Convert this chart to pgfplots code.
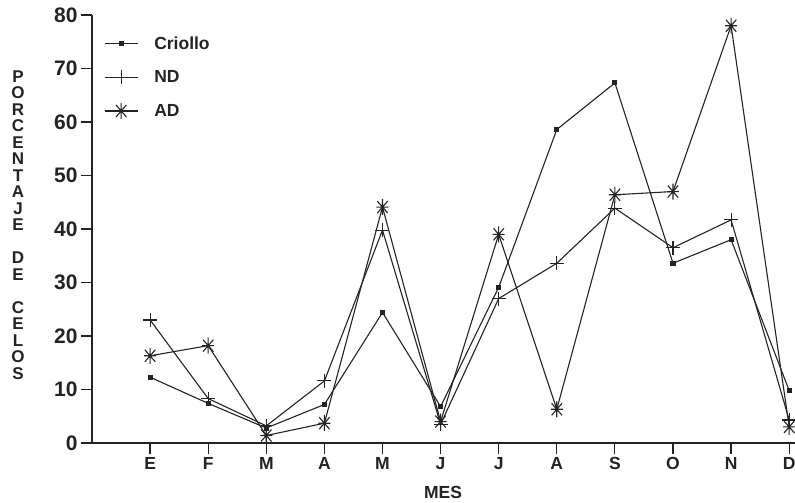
\documentclass[border=0pt]{standalone}
\usepackage{pgfplots}
\pgfplotsset{compat=1.18}
\usepackage{fontspec}
\setmainfont{Liberation Sans}
\definecolor{ink}{RGB}{35,35,35}
\pgfdeclareplotmark{ast8}{%
  \pgfpathmoveto{\pgfpoint{0pt}{\pgfplotmarksize}}%
  \pgfpathlineto{\pgfpoint{0pt}{-\pgfplotmarksize}}%
  \pgfpathmoveto{\pgfpoint{-0.75\pgfplotmarksize}{0pt}}%
  \pgfpathlineto{\pgfpoint{0.75\pgfplotmarksize}{0pt}}%
  \pgfpathmoveto{\pgfpoint{-0.65\pgfplotmarksize}{-0.75\pgfplotmarksize}}%
  \pgfpathlineto{\pgfpoint{0.65\pgfplotmarksize}{0.75\pgfplotmarksize}}%
  \pgfpathmoveto{\pgfpoint{-0.65\pgfplotmarksize}{0.75\pgfplotmarksize}}%
  \pgfpathlineto{\pgfpoint{0.65\pgfplotmarksize}{-0.75\pgfplotmarksize}}%
  \pgfusepathqstroke}
\begin{document}
\begin{tikzpicture}
\begin{axis}[
  at={(0,0)}, anchor=origin,
  scale only axis, width=703pt, height=428pt,
  xmin=0, xmax=12.1, ymin=0, ymax=80,
  axis x line*=bottom, axis y line*=left,
  axis line style={ink, line width=1.4pt},
  xtick={1,...,12}, xticklabels={E,F,M,A,M,J,J,A,S,O,N,D},
  ytick={0,10,...,80},
  tick align=outside, major tick length=11pt,
  tick style={ink, line width=1.2pt},
  /pgf/number format/assume math mode=true,
  xticklabel style={font=\fontsize{17.5}{20}\selectfont\bfseries, text=ink},
  yticklabel style={font=\fontsize{21}{24}\selectfont\bfseries, text=ink},
  clip=false,
  legend style={at={(axis description cs:0.017,0.955)}, anchor=north west,
    draw=none, fill=none, font=\fontsize{17.5}{20}\selectfont\bfseries, text=ink,
    row sep=16pt, column sep=14pt, inner sep=0pt},
  legend cell align=left,
  legend image code/.code={\draw[mark repeat=2,mark phase=2] plot coordinates {(0pt,0pt) (16.5pt,0pt) (33pt,0pt)};},
  every axis plot/.append style={ink, line width=1.1pt, mark options={solid, line width=1.1pt}},
]
\addplot[mark=square*, mark size=2pt] coordinates {
(1,12.3) (2,7.4) (3,2.8) (4,7.2) (5,24.4) (6,6.8) (7,29.1) (8,58.6) (9,67.3) (10,33.6) (11,38.0) (12,9.8)};
\addlegendentry{Criollo}
\addplot[mark=+, mark size=7pt] coordinates {
(1,23.0) (2,8.3) (3,3.2) (4,11.6) (5,39.8) (6,3.5) (7,27.0) (8,33.6) (9,43.9) (10,36.5) (11,41.7) (12,4.3)};
\addlegendentry{ND}
\addplot[mark=ast8, mark size=8pt] coordinates {
(1,16.3) (2,18.2) (3,1.4) (4,3.7) (5,44.1) (6,4.0) (7,39.0) (8,6.3) (9,46.4) (10,47.0) (11,78.0) (12,3.0)};
\addlegendentry{AD}
\end{axis}
\node[font=\fontsize{17}{16.5}\selectfont\bfseries, text=ink, align=center] at (-74pt,218pt)
  {P\\O\\R\\C\\E\\N\\T\\A\\J\\E\\[16.5pt]D\\E\\[16.5pt]C\\E\\L\\O\\S};
\node[font=\fontsize{17.5}{20}\selectfont\bfseries, text=ink] at (351pt,-49pt) {MES};
\pgfresetboundingbox
\path (-92pt,-60pt) rectangle (703pt,443pt);
\end{tikzpicture}
\end{document}
